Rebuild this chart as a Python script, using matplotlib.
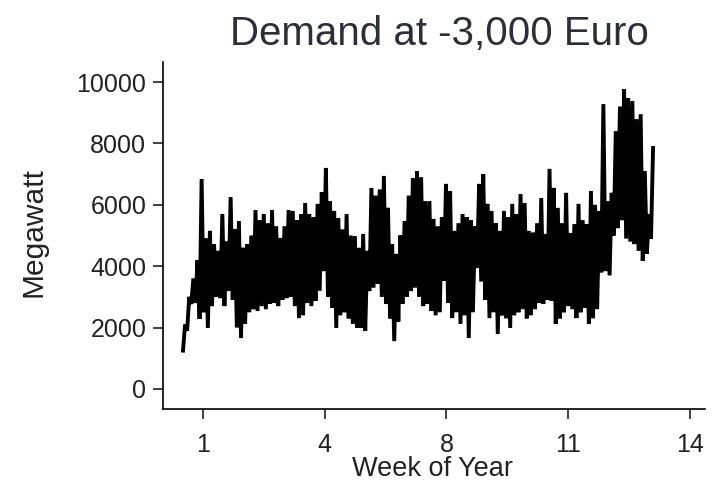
import numpy as np
import matplotlib
matplotlib.use("Agg")
import matplotlib.pyplot as plt

# daily peak and trough demand (MW), one pair per day
day_peak = [2100, 3000, 3600, 4200, 6840, 4900, 5150, 4720, 4500, 5700,
            4800, 6250, 5200, 5470, 4600, 4720, 5000, 5830, 5500, 5700,
            5400, 5830, 5300, 4920, 5300, 5830, 5800, 5500, 5700, 6060,
            5700, 5600, 6030, 6400, 7200, 6120, 5800, 5570, 5200, 5700,
            5000, 4980, 4600, 5050, 4500, 6550, 6300, 6500, 6940, 5900,
            4720, 4400, 5000, 5470, 6300, 6870, 7100, 6900, 6120, 6120,
            5540, 5300, 5600, 6680, 6450, 5150, 5400, 5700, 5600, 5500,
            5300, 6680, 7000, 6030, 5800, 5400, 5150, 5800, 5600, 6030,
            5700, 6350, 6060, 5150, 5100, 5400, 6220, 5050, 7170, 6550,
            5900, 5400, 6390, 5080, 5370, 6030, 5500, 5370, 6450, 6000,
            5800, 9280, 6120, 6390, 8400, 9200, 9770, 9480, 9380, 8790,
            8950, 7100, 5700, 7850]
day_trough = [1250, 1900, 2770, 2800, 2280, 2500, 1990, 2700, 3000, 2960,
              2700, 3190, 2900, 2000, 1660, 2120, 2500, 2600, 2540, 2700,
              2600, 2770, 2800, 2700, 2900, 2960, 3000, 2700, 2310, 2400,
              2800, 2700, 2870, 3200, 3840, 3000, 2640, 1990, 2400, 2500,
              2300, 2120, 2000, 1990, 1890, 3190, 3300, 3420, 3000, 2770,
              2300, 1560, 2200, 2770, 3000, 3190, 3300, 3000, 2700, 2770,
              2540, 2400, 2500, 3520, 2800, 2310, 2500, 2120, 2400, 1660,
              2500, 3940, 3500, 2900, 2310, 2500, 1790, 2400, 2300, 1990,
              2400, 2500, 2600, 2300, 2400, 2600, 2800, 2770, 2900, 2870,
              2120, 2300, 2500, 2700, 2600, 2310, 2500, 2640, 2120, 2300,
              2600, 3800, 3840, 3700, 5000, 5240, 5500, 4900, 4800, 4720,
              4500, 4170, 4400, 4900]
tick_labels = ["1", "4", "8", "11", "14"]

plt.rcParams["font.family"] = ["Liberation Sans", "DejaVu Sans"]

days = np.arange(len(day_peak))
# trough at night, peak during the day
t = np.empty(2 * len(days))
mw = np.empty(2 * len(days))
t[0::2] = days
t[1::2] = days + 0.5
mw[0::2] = day_trough
mw[1::2] = day_peak

W, H = 721, 482
left, right, bottom, top = 163, 705, 409, 62
fig = plt.figure(figsize=(W / 100, H / 100), dpi=100)
ax = fig.add_axes([left / W, 1 - bottom / H, (right - left) / W, (bottom - top) / H])
ax.plot(t, mw, color="black", lw=2.8, solid_joinstyle="miter")

px_per_day = (651 - 183) / (len(days) - 1)
ax.set_xlim((left - 183) / px_per_day, (right - 183) / px_per_day)
px_per_mw = 30.7 / 1000
ax.set_ylim(-(bottom - 389) / px_per_mw, (389 - top) / px_per_mw)
first = (203 - 183) / px_per_day
step = 121.7 / px_per_day
ax.set_xticks([first + k * step for k in range(5)])
ax.set_xticklabels(tick_labels)
ax.set_yticks(np.arange(0, 10001, 2000))

for s in ["top", "right"]:
    ax.spines[s].set_visible(False)
for s in ["left", "bottom"]:
    ax.spines[s].set_linewidth(1.2)
ax.tick_params(length=7, width=1.2, labelsize=18, colors="#222222")
ax.tick_params(axis="y", pad=5)
ax.tick_params(axis="x", pad=10)

fig.text(33 / W, 1 - 232 / H, "Megawatt", rotation=90, fontsize=21.5,
         ha="center", va="center", color="#222222")
fig.text(433 / W, 1 - 476 / H, "Week of Year", fontsize=19.5,
         ha="center", va="baseline", color="#222222")
fig.text(439 / W, 1 - 45 / H, "Demand at -3,000 Euro", fontsize=29,
         ha="center", va="baseline", color="#2b2f3c")

fig.savefig("out.png", dpi=100)
